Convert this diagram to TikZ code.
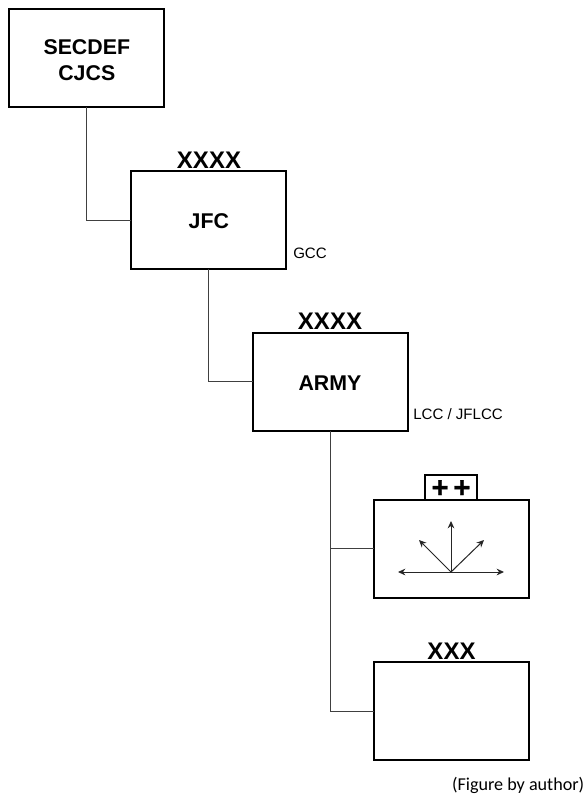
\documentclass[tikz,border=0pt]{standalone}
\usepackage{fontspec}
\setmainfont{Liberation Sans}
\newfontfamily\capfont{Carlito}
\newfontfamily\plusfont[BoldFeatures={FakeBold=1.2}]{Liberation Sans}
\usetikzlibrary{arrows.meta}
\begin{document}
\begin{tikzpicture}[x=0.75pt,y=-0.75pt,
  unitbox/.style={draw=black,line width=1.5pt,fill=white,outer sep=0pt,minimum width=116.25pt,minimum height=73.5pt,inner sep=0pt,anchor=north west,
    font=\bfseries\fontsize{16}{19.5}\selectfont,align=center},
  conn/.style={draw=black!75,line width=0.75pt},
  echelon/.style={font=\bfseries\fontsize{18}{18}\selectfont,inner sep=0pt,anchor=base},
  small/.style={font=\fontsize{11.3}{13}\selectfont,inner sep=0pt,anchor=base west},
  vec/.style={draw=black!85,line width=0.75pt,-{Stealth[length=5.5pt,width=5pt]}}]
\useasboundingbox (0,0) rectangle (585,797);
\fill[white] (0,0) rectangle (585,797);
\node[unitbox] (sec) at (9.3,9.3) {\rule{0pt}{14pt}SECDEF\\CJCS};
\node[unitbox,text height=13pt,text depth=0pt] (jfc) at (131.3,171) {JFC};
\node[unitbox,text height=13pt,text depth=0pt] (army) at (252.5,332.5) {ARMY};
\node[unitbox] (corps) at (373.7,499.5) {};
\node[unitbox] (xxx) at (373.7,662) {};
\node[draw=black,line width=1.5pt,fill=white,outer sep=0pt,minimum width=39pt,minimum height=18.4pt,inner sep=0pt,anchor=south,
  font=\plusfont\bfseries\fontsize{22}{22}\selectfont] (plus) at (451,499.5) {\raisebox{-7.6pt}[0pt][0pt]{+\hspace{3.5pt}+}};
\node[echelon] (e1) at (209,168.3) {XXXX};
\node[echelon] (e2) at (330,329.7) {XXXX};
\node[echelon] (e3) at (451.5,659) {XXX};
\node[small] (gcc) at (293,258) {GCC};
\node[small] (lcc) at (413,419.5) {LCC / JFLCC};
\node[inner sep=0pt,anchor=base east,font=\capfont\fontsize{13.6}{15}\selectfont] (cap) at (584.5,790) {(Figure by author)};
\draw[conn] (sec.south) |- (jfc.west);
\draw[conn] (jfc.south) |- (army.west);
\draw[conn] (army.south) |- (corps.west);
\draw[conn] (army.south) |- (xxx.west);
\coordinate (o) at (451,572);
\coordinate (l) at (398,572);
\coordinate (r) at (504,572);
\coordinate (u) at (451,521);
\coordinate (nw) at (419,540);
\coordinate (ne) at (484,540);
\draw[vec] (o) -- (l);
\draw[vec] (o) -- (r);
\draw[vec] (o) -- (u);
\draw[vec] (o) -- (nw);
\draw[vec] (o) -- (ne);
\end{tikzpicture}
\end{document}
